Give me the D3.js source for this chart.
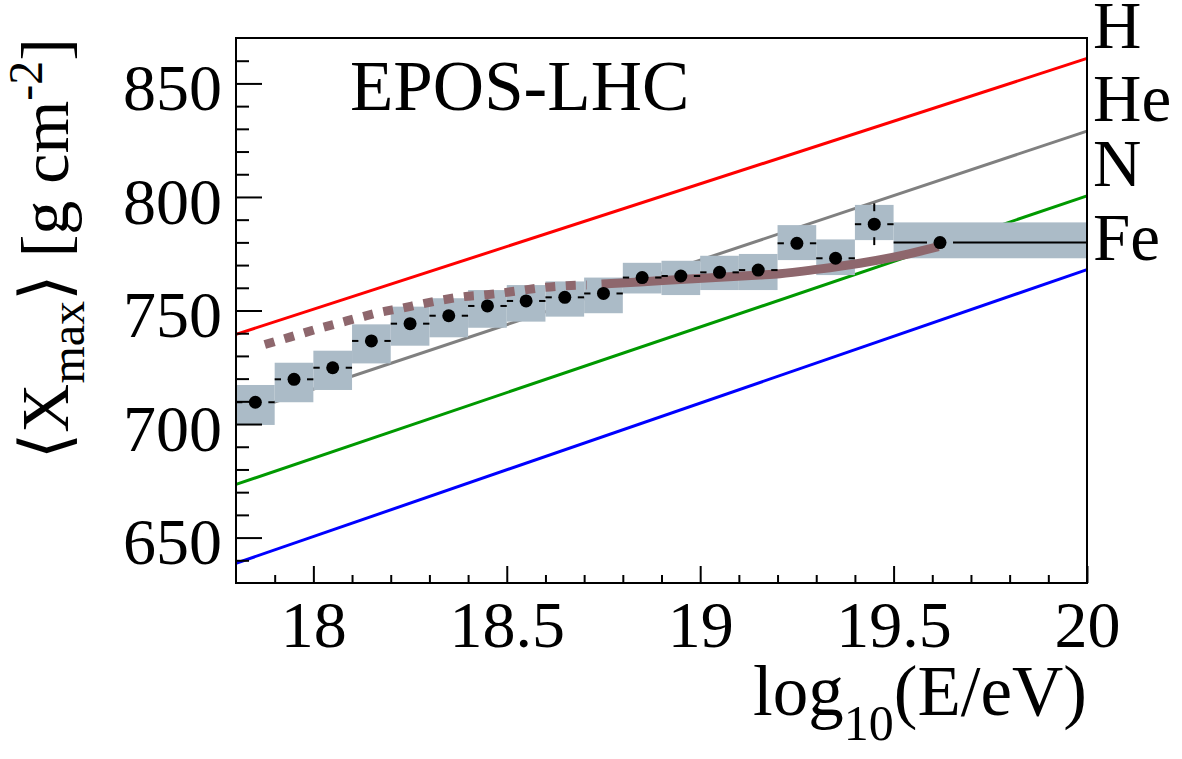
<!DOCTYPE html>
<html>
<head>
<meta charset="utf-8">
<script src="https://cdn.jsdelivr.net/npm/d3@7"></script>
<style>
  body { margin: 0; background: #fff; }
  svg text { font-family: "Liberation Serif", Tinos, "DejaVu Serif", "Times New Roman", Times, serif; fill: #000; }
</style>
</head>
<body>
<div id="xmax-plot-wrapper"></div>
<script>
// data points: bin centres, <Xmax>, systematic band, statistical error
const binEdges = [17.8, 17.9, 18.0, 18.1, 18.2, 18.3, 18.4, 18.5, 18.6, 18.7, 18.8, 18.9, 19.0, 19.1, 19.2, 19.3, 19.4, 19.5, 20.0];
const logE = [17.85, 17.95, 18.05, 18.15, 18.25, 18.35, 18.45, 18.55, 18.65, 18.75, 18.85, 18.95, 19.05, 19.15, 19.25, 19.35, 19.45, 19.62];
const xmaxMean = [709.6, 719.7, 724.8, 736.6, 744.2, 747.7, 752.0, 754.2, 755.8, 757.5, 764.5, 765.2, 766.8, 767.8, 779.6, 773.0, 788.0, 779.9];
const sysUp = [7.6, 7.3, 7.5, 7.3, 7.5, 7.7, 7.0, 7.0, 7.0, 7.0, 6.5, 6.7, 7.3, 7.1, 8.0, 8.3, 8.5, 8.9];
const sysDown = [10.0, 10.1, 9.8, 9.9, 9.7, 9.5, 9.6, 9.1, 8.5, 8.7, 7.0, 8.4, 7.8, 8.8, 7.4, 7.4, 7.0, 6.9];
const statErr = [1.5, 1.5, 1.6, 1.7, 1.8, 2.0, 2.1, 2.3, 2.5, 2.7, 2.9, 3.1, 3.3, 3.6, 4.2, 5.0, 9.2, 5.0];

// EPOS-LHC predictions (straight lines between 17.8 and 20)
const models = ["H", "He", "N", "Fe"];
const modelAt178 = [739.5, 704.0, 673.4, 638.7];
const modelAt20 = [861.0, 829.0, 800.5, 768.0];
const modelColors = ["#ff0000", "#808080", "#009900", "#0000ff"];

// fitted composition curve, dotted below the fit range, solid inside
const fitDotE = [17.862, 17.914, 17.965, 18.017, 18.069, 18.121, 18.172, 18.228, 18.280, 18.332, 18.388, 18.439, 18.491, 18.543, 18.599, 18.655, 18.707];
const fitDotX = [734.4, 737.0, 739.6, 742.2, 744.6, 747.0, 749.2, 751.0, 752.9, 754.6, 756.1, 756.8, 757.8, 759.0, 760.2, 760.9, 761.2];
const fitSolidE = [18.745, 18.844, 18.948, 19.051, 19.155, 19.206, 19.301, 19.413, 19.525, 19.616];
const fitSolidX = [761.7, 762.6, 763.7, 764.6, 765.6, 766.2, 768.1, 770.8, 774.4, 778.1];

const xTickValues = [18, 18.5, 19, 19.5, 20];
const yTickValues = [650, 700, 750, 800, 850];

const config = {
    domId: "xmax-plot-wrapper",
    width: 1182,
    height: 759,
    padding: {top: 38, right: 95, bottom: 176, left: 236},
    fontSize: 66
};
config.innerWidth = config.width - config.padding.left - config.padding.right;
config.innerHeight = config.height - config.padding.top - config.padding.bottom;

const svgRoot = d3.select(`#${config.domId}`).append("svg")
    .attr("width", config.width)
    .attr("height", config.height);

const svg = svgRoot.append("g")
    .attr("transform", `translate(${config.padding.left}, ${config.padding.top})`);

const scale = {
    x: d3.scaleLinear().domain([17.8, 20]).range([0, config.innerWidth]),
    y: d3.scaleLinear().domain([630, 870]).range([config.innerHeight, 0])
};

// model lines
svg.selectAll(".model-line").data(models).enter()
    .append("line")
    .attr("class", "model-line")
    .attr("x1", scale.x(17.8))
    .attr("x2", scale.x(20))
    .attr("y1", (d, i) => scale.y(modelAt178[i]))
    .attr("y2", (d, i) => scale.y(modelAt20[i]))
    .attr("stroke", (d, i) => modelColors[i])
    .attr("stroke-width", 3);

// systematic boxes
svg.selectAll(".sys-box").data(logE).enter()
    .append("rect")
    .attr("class", "sys-box")
    .attr("x", (d, i) => scale.x(binEdges[i]))
    .attr("width", (d, i) => scale.x(binEdges[i + 1]) - scale.x(binEdges[i]))
    .attr("y", (d, i) => scale.y(xmaxMean[i] + sysUp[i]))
    .attr("height", (d, i) => scale.y(xmaxMean[i] - sysDown[i]) - scale.y(xmaxMean[i] + sysUp[i]))
    .attr("fill", "#abbbc7");

// fit curve
const line = d3.line().x(d => scale.x(d[0])).y(d => scale.y(d[1])).curve(d3.curveMonotoneX);
svg.append("path")
    .datum(fitDotE.map((e, i) => [e, fitDotX[i]]))
    .attr("d", line)
    .attr("fill", "none")
    .attr("stroke", "#8e676d")
    .attr("stroke-width", 9)
    .attr("stroke-dasharray", "10,10.5")
    .attr("stroke-dashoffset", -5);
svg.append("path")
    .datum(fitSolidE.map((e, i) => [e, fitSolidX[i]]))
    .attr("d", line)
    .attr("fill", "none")
    .attr("stroke", "#8e676d")
    .attr("stroke-width", 9);

// error bars with a gap round the marker
const gap = 13;
const errG = svg.append("g").attr("stroke", "#000").attr("stroke-width", 2);
logE.forEach((e, i) => {
    const cx = scale.x(e), cy = scale.y(xmaxMean[i]);
    const xl = scale.x(binEdges[i]), xr = scale.x(binEdges[i + 1]);
    if (cx - gap > xl) errG.append("line").attr("x1", xl).attr("x2", cx - gap).attr("y1", cy).attr("y2", cy);
    if (xr > cx + gap) errG.append("line").attr("x1", cx + gap).attr("x2", xr).attr("y1", cy).attr("y2", cy);
    const yt = scale.y(xmaxMean[i] + statErr[i]), yb = scale.y(xmaxMean[i] - statErr[i]);
    if (cy - yt > gap) {
        errG.append("line").attr("x1", cx).attr("x2", cx).attr("y1", yt).attr("y2", cy - gap);
        errG.append("line").attr("x1", cx).attr("x2", cx).attr("y1", cy + gap).attr("y2", yb);
    }
});

svg.selectAll(".marker").data(logE).enter()
    .append("circle")
    .attr("class", "marker")
    .attr("cx", d => scale.x(d))
    .attr("cy", (d, i) => scale.y(xmaxMean[i]))
    .attr("r", 6.5)
    .attr("fill", "#000");

// axes, ticks pointing inward
const yMinor = d3.range(640, 870, 10).filter(v => v % 50 !== 0);
const xMinor = d3.range(17.9, 20, 0.1).filter(v => Math.abs(v * 2 - Math.round(v * 2)) > 0.01);

svg.append("g").attr("class", "axis")
    .call(d3.axisLeft(scale.y).tickValues(yMinor).tickSize(-13).tickFormat(""));
svg.append("g").attr("class", "axis")
    .call(d3.axisLeft(scale.y).tickValues(yTickValues).tickSize(-26).tickPadding(14));
svg.append("g").attr("class", "axis")
    .attr("transform", `translate(0,${config.innerHeight})`)
    .call(d3.axisBottom(scale.x).tickValues(xMinor).tickSize(-8).tickFormat(""));
svg.append("g").attr("class", "axis x-major")
    .attr("transform", `translate(0,${config.innerHeight})`)
    .call(d3.axisBottom(scale.x).tickValues(xTickValues).tickSize(-17).tickPadding(17).tickFormat(d3.format("")));

svg.selectAll(".axis").attr("font-family", null);
svg.selectAll(".axis .domain").remove();
svg.selectAll(".axis line").attr("stroke", "#000").attr("stroke-width", 2);
svg.selectAll(".axis text").attr("font-size", config.fontSize);
svg.selectAll(".axis text").filter(function() { return !this.closest(".x-major"); }).attr("dy", "0.4em");

// frame
svg.append("rect")
    .attr("width", config.innerWidth)
    .attr("height", config.innerHeight)
    .attr("fill", "none")
    .attr("stroke", "#000")
    .attr("stroke-width", 2);

// labels for the model lines
svg.selectAll(".model-label").data(models).enter()
    .append("text")
    .attr("class", "model-label")
    .attr("x", config.innerWidth + 6)
    .attr("y", (d, i) => scale.y(modelAt20[i]) - 10)
    .attr("font-size", 67)
    .text(d => d);

// model name
svg.append("text")
    .attr("x", 114)
    .attr("y", 72)
    .attr("font-size", 71)
    .text("EPOS-LHC");

// x title
const xTitle = svg.append("text")
    .attr("x", config.innerWidth)
    .attr("y", config.innerHeight + 132)
    .attr("text-anchor", "end")
    .attr("font-size", 71);
xTitle.append("tspan").text("log");
xTitle.append("tspan").attr("font-size", 50).attr("dy", 25).text("10");
xTitle.append("tspan").attr("dy", -25).text("(E/eV)");

// y title
const yTitle = svgRoot.append("text")
    .attr("transform", "translate(68, 38) rotate(-90)")
    .attr("text-anchor", "end")
    .attr("font-size", 68);
yTitle.append("tspan").text("\u27E8X");
yTitle.append("tspan").attr("font-size", 48).attr("dy", 16).text("max");
yTitle.append("tspan").attr("dy", -16).text("\u27E9 [g cm");
yTitle.append("tspan").attr("font-size", 48).attr("dy", -26).text("-2");
yTitle.append("tspan").attr("dy", 26).text("]");
</script>
</body>
</html>
